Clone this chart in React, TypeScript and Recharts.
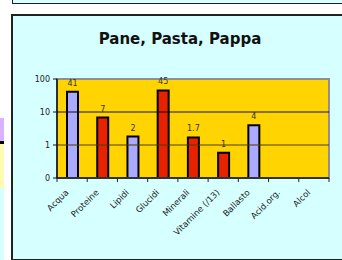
import React from 'react';
import { BarChart, Bar, XAxis, YAxis, CartesianGrid, ReferenceLine, ReferenceArea, Cell, LabelList } from 'recharts';

const categories = ['Acqua', 'Proteine', 'Lipidi', 'Glucidi', 'Minerali', 'Vitamine (/13)', 'Ballasto', 'Acid.org.', 'Alcol'];
const values: (number | null)[] = [41, 6.8, 1.8, 45, 1.7, 0.58, 4, null, null];
const valueLabels = ['41', '7', '2', '45', '1.7', '1', '4', '', ''];
const barColors = ['#AAAAFF', '#E62200', '#AAAAFF', '#E62200', '#E62200', '#E62200', '#AAAAFF', '#AAAAFF', '#AAAAFF'];
const yTicks = [0.1, 1, 10, 100];
const yTickLabels: Record<string, string> = { '0.1': '0', '1': '1', '10': '10', '100': '100' };

const data = categories.map((c, i) => ({ name: c, value: values[i], label: valueLabels[i] }));

const FONT = '"DejaVu Sans", Verdana, sans-serif';

const XTick = (props: any) => {
  const { x, y, payload, index, visibleTicksCount } = props;
  const half = payload && payload.offset ? payload.offset : 15;
  const last = index === (visibleTicksCount ?? categories.length) - 1;
  const tx = x - 3;
  const ty = y + 15;
  return (
    <g>
      <line x1={x - half} x2={x - half} y1={y} y2={y + 4} stroke="#222" strokeWidth={1} />
      {last ? <line x1={x + half} x2={x + half} y1={y} y2={y + 4} stroke="#222" strokeWidth={1} /> : null}
      <text
        x={tx}
        y={ty}
        transform={`rotate(-45, ${tx}, ${ty})`}
        textAnchor="end"
        fontSize={8.5}
        fontFamily={FONT}
        fill="#222"
      >
        {payload.value}
      </text>
    </g>
  );
};

export default function App() {
  return (
    <div style={{ position: 'absolute', left: 0, top: 0, width: 342, height: 260, overflow: 'hidden', background: '#fff' }}>
      {/* left strip decorations */}
      <div style={{ position: 'absolute', left: 0, top: 118, width: 4, height: 23, background: '#D9B3FF' }} />
      <div style={{ position: 'absolute', left: 0, top: 141, width: 4, height: 3, background: '#000' }} />
      <div style={{ position: 'absolute', left: 0, top: 144, width: 4, height: 44, background: '#FFFBB0' }} />
      <div style={{ position: 'absolute', left: 0, top: 188, width: 4, height: 72, background: '#D6FFFF' }} />
      {/* top box */}
      <div style={{ position: 'absolute', left: 12, top: -19, width: 340, height: 21, background: '#D6FFFF', border: '1.5px solid #222' }} />
      {/* main box */}
      <div style={{ position: 'absolute', left: 11, top: 14, width: 340, height: 243, background: '#D6FFFF', border: '2px solid #222' }} />
      <div style={{ position: 'absolute', left: 12, top: 30, width: 338, height: 20 }}>
        <span style={{ position: 'absolute', left: -1, width: 338, textAlign: 'center', fontFamily: FONT, fontWeight: 'bold', fontSize: 15, color: '#111' }}>Pane, Pasta, Pappa</span>
      </div>
      <div style={{ position: 'absolute', left: 0, top: 0 }}>
        <BarChart
          width={342}
          height={260}
          data={data}
          margin={{ top: 79, right: 13, left: 0, bottom: 0 }}
          barCategoryGap="60%"
        >
          <CartesianGrid horizontal={false} vertical={false} fill="#FFD400" stroke="none" />
          <ReferenceLine y={10} stroke="#111" strokeWidth={1.2} ifOverflow="visible" />
          <ReferenceLine y={1} stroke="#4a3c00" strokeWidth={1.2} ifOverflow="visible" />
          <ReferenceArea y1={0.1} y2={100} fill="none" stroke="#8f8f8f" strokeWidth={2} ifOverflow="visible" />
          <XAxis
            dataKey="name"
            interval={0}
            height={82}
            tickSize={0}
            tickMargin={0}
            tickLine={false}
            axisLine={{ stroke: '#333', strokeWidth: 2 }}
            tick={<XTick />}
          />
          <YAxis
            scale="log"
            domain={[0.1, 100]}
            ticks={yTicks}
            allowDataOverflow
            width={57}
            tickSize={4}
            tickMargin={3}
            axisLine={{ stroke: '#111', strokeWidth: 1.5 }}
            tickLine={{ stroke: '#111' }}
            tickFormatter={(v: number) => yTickLabels[String(v)] ?? String(v)}
            tick={{ fontSize: 8, fontFamily: FONT, fill: '#222' }}
          />
          <Bar dataKey="value" barSize={11} stroke="#000" strokeWidth={2} isAnimationActive={false}>
            {data.map((d, i) => (
              <Cell key={d.name} fill={barColors[i]} />
            ))}
            <LabelList dataKey="label" position="top" offset={6} fontSize={8} fontFamily={FONT} fill="#333" />
          </Bar>
        </BarChart>
      </div>
    </div>
  );
}
